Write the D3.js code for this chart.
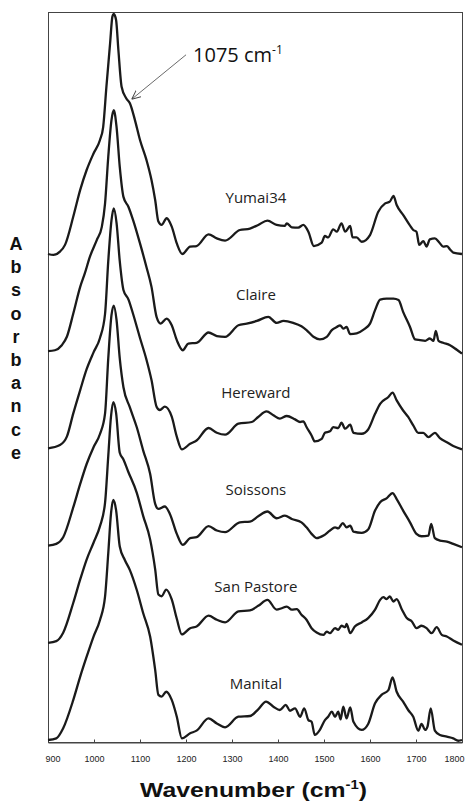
<!DOCTYPE html>
<html>
<head>
<meta charset="utf-8">
<script src="https://cdn.jsdelivr.net/npm/d3@7"></script>
<style>
  body { margin: 0; background: #fff; }
</style>
</head>
<body>
<div id="chart"></div>
<script>
// FTIR spectra, [wavenumber (cm-1), absorbance]
const yumai34 = [[900,0],[912,-0.004],[926,0.01],[937,0.038],[955,0.156],[970,0.267],[984,0.35],[999,0.419],[1013,0.475],[1020,0.53],[1027,0.697],[1035,0.878],[1040,0.989],[1043,1.0],[1048,0.975],[1053,0.85],[1060,0.697],[1070,0.649],[1078,0.628],[1089,0.558],[1100,0.475],[1114,0.392],[1125,0.308],[1133,0.225],[1140,0.135],[1147,0.121],[1158,0.149],[1169,0.114],[1180,0.044],[1192,0.0],[1209,0.031],[1223,0.033],[1249,0.082],[1267,0.065],[1285,0.056],[1317,0.1],[1339,0.106],[1357,0.121],[1377,0.139],[1397,0.121],[1415,0.117],[1419,0.128],[1430,0.111],[1444,0.11],[1455,0.121],[1466,0.093],[1478,0.033],[1495,0.047],[1502,0.075],[1509,0.069],[1520,0.103],[1528,0.093],[1538,0.128],[1546,0.093],[1557,0.117],[1562,0.069],[1571,0.069],[1582,0.051],[1600,0.079],[1618,0.176],[1633,0.211],[1643,0.218],[1651,0.242],[1658,0.204],[1672,0.163],[1686,0.121],[1694,0.1],[1701,0.093],[1707,0.038],[1716,0.054],[1723,0.031],[1730,0.061],[1741,0.065],[1751,0.047],[1759,0.031],[1767,0.033],[1774,0.019],[1781,0.006],[1800,0]];
const claire = [[900,0],[915,0.004],[930,0.025],[941,0.06],[955,0.157],[970,0.268],[980,0.324],[991,0.393],[1006,0.463],[1017,0.518],[1024,0.615],[1031,0.81],[1038,0.963],[1043,1.004],[1049,0.935],[1056,0.768],[1064,0.643],[1075,0.601],[1085,0.546],[1100,0.449],[1114,0.351],[1125,0.268],[1136,0.143],[1145,0.115],[1158,0.136],[1169,0.108],[1180,0.046],[1193,0.004],[1205,0.032],[1223,0.035],[1249,0.078],[1267,0.063],[1285,0.06],[1314,0.108],[1332,0.115],[1354,0.126],[1379,0.143],[1397,0.118],[1412,0.126],[1433,0.118],[1451,0.104],[1462,0.088],[1477,0.06],[1491,0.049],[1506,0.06],[1517,0.088],[1528,0.101],[1535,0.108],[1542,0.094],[1549,0.101],[1557,0.071],[1571,0.074],[1586,0.09],[1600,0.115],[1611,0.171],[1622,0.215],[1636,0.219],[1651,0.219],[1662,0.213],[1672,0.164],[1687,0.101],[1698,0.049],[1709,0.046],[1720,0.043],[1730,0.053],[1738,0.043],[1743,0.085],[1749,0.043],[1759,0.035],[1774,0.025],[1788,0.007],[1800,-0.01]];
const hereward = [[900,0],[926,0.014],[941,0.049],[955,0.146],[970,0.243],[984,0.33],[999,0.4],[1013,0.46],[1024,0.56],[1031,0.78],[1038,0.95],[1043,1.0],[1049,0.94],[1056,0.78],[1064,0.66],[1075,0.62],[1085,0.56],[1100,0.46],[1114,0.37],[1125,0.285],[1136,0.174],[1143,0.16],[1154,0.174],[1169,0.132],[1180,0.049],[1191,-0.004],[1209,0.019],[1223,0.033],[1249,0.085],[1267,0.065],[1285,0.057],[1314,0.103],[1343,0.11],[1357,0.131],[1375,0.154],[1390,0.138],[1404,0.124],[1419,0.135],[1437,0.121],[1448,0.11],[1455,0.113],[1462,0.089],[1473,0.054],[1480,0.029],[1495,0.04],[1502,0.065],[1513,0.071],[1520,0.089],[1531,0.085],[1538,0.107],[1546,0.082],[1557,0.099],[1564,0.065],[1582,0.061],[1596,0.079],[1611,0.144],[1622,0.186],[1640,0.214],[1649,0.232],[1658,0.2],[1672,0.158],[1683,0.131],[1694,0.096],[1705,0.065],[1716,0.065],[1727,0.047],[1741,0.065],[1752,0.043],[1767,0.026],[1781,0.01],[1800,-0.004]];
const soissons = [[900,0],[918,0.007],[933,0.035],[955,0.16],[970,0.257],[984,0.34],[999,0.41],[1013,0.465],[1024,0.55],[1031,0.78],[1038,0.96],[1043,1.0],[1049,0.94],[1056,0.78],[1064,0.66],[1078,0.576],[1093,0.493],[1107,0.396],[1122,0.299],[1133,0.174],[1140,0.153],[1154,0.163],[1165,0.132],[1180,0.049],[1193,0.003],[1209,0.031],[1223,0.035],[1249,0.081],[1267,0.063],[1285,0.056],[1317,0.097],[1339,0.1],[1357,0.122],[1377,0.142],[1397,0.114],[1415,0.125],[1430,0.111],[1451,0.097],[1462,0.076],[1473,0.049],[1484,0.031],[1499,0.042],[1513,0.063],[1524,0.076],[1531,0.072],[1541,0.094],[1549,0.076],[1557,0.083],[1564,0.058],[1582,0.053],[1596,0.067],[1611,0.146],[1622,0.181],[1636,0.197],[1649,0.219],[1658,0.194],[1672,0.146],[1687,0.097],[1701,0.049],[1712,0.039],[1727,0.042],[1733,0.09],[1741,0.031],[1752,0.021],[1767,0.017],[1781,0.007],[1800,-0.007]];
const sanPastore = [[900,0],[918,0.007],[933,0.042],[955,0.167],[970,0.264],[984,0.347],[999,0.417],[1013,0.486],[1024,0.583],[1031,0.778],[1037,0.944],[1042,1.003],[1048,0.958],[1056,0.792],[1064,0.764],[1074,0.715],[1093,0.625],[1107,0.528],[1122,0.431],[1133,0.306],[1140,0.201],[1147,0.194],[1157,0.222],[1169,0.181],[1180,0.1],[1191,0.035],[1209,0.061],[1223,0.068],[1249,0.113],[1267,0.096],[1285,0.085],[1314,0.131],[1339,0.135],[1357,0.154],[1377,0.179],[1397,0.138],[1408,0.144],[1419,0.151],[1430,0.138],[1441,0.14],[1451,0.117],[1462,0.096],[1473,0.061],[1484,0.043],[1499,0.033],[1506,0.047],[1513,0.04],[1524,0.061],[1531,0.054],[1538,0.071],[1546,0.065],[1549,0.079],[1557,0.04],[1567,0.068],[1582,0.085],[1596,0.103],[1611,0.138],[1622,0.179],[1629,0.19],[1636,0.182],[1643,0.193],[1651,0.172],[1658,0.182],[1669,0.14],[1680,0.103],[1691,0.089],[1701,0.061],[1712,0.071],[1723,0.061],[1734,0.04],[1745,0.065],[1756,0.033],[1767,0.026],[1781,0.01],[1800,-0.008]];
const manital = [[900,0],[918,0.007],[933,0.049],[955,0.167],[970,0.264],[984,0.347],[999,0.431],[1013,0.5],[1024,0.597],[1031,0.778],[1037,0.944],[1042,1.0],[1048,0.958],[1056,0.806],[1067,0.75],[1078,0.708],[1093,0.625],[1107,0.528],[1122,0.431],[1133,0.292],[1140,0.188],[1147,0.181],[1157,0.201],[1169,0.167],[1180,0.097],[1191,0.007],[1209,0.028],[1223,0.039],[1249,0.09],[1267,0.069],[1285,0.053],[1314,0.097],[1339,0.1],[1357,0.128],[1374,0.16],[1390,0.139],[1404,0.125],[1417,0.146],[1426,0.122],[1437,0.132],[1448,0.097],[1457,0.132],[1466,0.083],[1473,0.076],[1480,0.021],[1491,0.042],[1502,0.083],[1509,0.097],[1517,0.118],[1524,0.097],[1531,0.118],[1536,0.086],[1542,0.139],[1549,0.09],[1557,0.136],[1564,0.076],[1582,0.042],[1596,0.067],[1611,0.153],[1625,0.188],[1640,0.208],[1649,0.261],[1658,0.201],[1672,0.16],[1683,0.125],[1694,0.097],[1705,0.039],[1712,0.067],[1720,0.042],[1725,0.056],[1732,0.132],[1741,0.039],[1752,0.021],[1767,0.014],[1781,0.007],[1792,-0.003],[1800,0]];

const varieties = ["Yumai34", "Claire", "Hereward", "Soissons", "San Pastore", "Manital"];
const spectra = [yumai34, claire, hereward, soissons, sanPastore, manital];
// vertical stacking offset of each trace (absorbance units)
const stackOffsets = [2.025, 1.62, 1.215, 0.81, 0.405, 0];
const xTicks = [900, 1000, 1100, 1200, 1300, 1400, 1500, 1600, 1700, 1800];
const yLabel = "Absorbance";

// set the dimensions and margins of the graph
var margin = {top: 12, right: 10, bottom: 70, left: 48},
    width = 472 - margin.left - margin.right,
    height = 812 - margin.top - margin.bottom;

var svg = d3.select("#chart")
  .append("svg")
    .attr("width", 472)
    .attr("height", 812)
  .append("g")
    .attr("transform", "translate(" + margin.left + "," + margin.top + ")");

var x = d3.scaleLinear()
  .domain([900, 1800])
  .range([0, width]);

var y = d3.scaleLinear()
  .domain([-0.0083, 3.0333])
  .range([height, 0]);

// frame
svg.append("rect")
  .attr("x", 0.5)
  .attr("y", 0.5)
  .attr("width", width)
  .attr("height", height)
  .attr("fill", "none")
  .attr("stroke", "#444")
  .attr("stroke-width", 1);

// X axis, inward ticks
var xAxis = svg.append("g")
  .attr("transform", "translate(0," + (height + 0.5) + ")")
  .call(d3.axisBottom(x).tickValues(xTicks).tickSize(-3).tickPadding(13).tickFormat(d3.format("d")));
xAxis.select(".domain").attr("stroke", "#444");
xAxis.selectAll(".tick line").attr("stroke", "#444");
xAxis.selectAll("text")
  .style("font-family", "'Liberation Sans', Arial, sans-serif")
  .style("font-size", "9px")
  .attr("fill", "#222");
xAxis.selectAll(".tick").filter(function(d) { return d === 1800; }).select("text")
  .attr("text-anchor", "end").attr("x", 2);
xAxis.selectAll(".tick").filter(function(d) { return d === 900; }).select("text")
  .attr("text-anchor", "start").attr("x", -3);

// spectra
var line = d3.line()
  .x(function(d) { return x(d[0]); })
  .y(function(d) { return y(d[1] + d.offset); })
  .curve(d3.curveMonotoneX);

spectra.forEach(function(s, i) {
  var pts = s.map(function(p) { var q = [p[0], p[1]]; q.offset = stackOffsets[i]; return q; });
  svg.append("path")
    .datum(pts)
    .attr("fill", "none")
    .attr("stroke", "#1a1a1a")
    .attr("stroke-width", 2.3)
    .attr("stroke-linejoin", "round")
    .attr("d", line);
});

// variety labels
svg.selectAll(".variety")
  .data(varieties)
  .enter()
  .append("text")
    .attr("class", "variety")
    .attr("x", x(1352))
    .attr("y", function(d, i) { return y(stackOffsets[i] + 0.212); })
    .attr("text-anchor", "middle")
    .style("font-family", "'Open Sans', sans-serif")
    .style("font-size", "15px")
    .attr("fill", "#222")
    .text(function(d) { return d; });

// 1075 cm-1 annotation
svg.append("defs").append("marker")
    .attr("id", "arrow")
    .attr("viewBox", "0 0 10 10")
    .attr("refX", 10)
    .attr("refY", 5)
    .attr("markerWidth", 9)
    .attr("markerHeight", 9)
    .attr("markerUnits", "userSpaceOnUse")
    .attr("orient", "auto")
  .append("path")
    .attr("d", "M0,0.5 L10,5 L0,9.5")
    .attr("fill", "none")
    .attr("stroke", "#444")
    .attr("stroke-width", 1.1);

svg.append("line")
  .attr("x1", x(1187) + 6)
  .attr("y1", y(stackOffsets[0] + 0.83))
  .attr("x2", x(1082))
  .attr("y2", y(stackOffsets[0] + 0.645))
  .attr("stroke", "#444")
  .attr("stroke-width", 0.8)
  .attr("marker-end", "url(#arrow)");

var ann = svg.append("text")
  .attr("x", x(1187) + 13)
  .attr("y", y(stackOffsets[0] + 0.8))
  .style("font-family", "'Open Sans', sans-serif")
  .style("font-size", "20px")
  .attr("fill", "#111");
ann.append("tspan").text("1075 cm");
ann.append("tspan").attr("dy", -8).style("font-size", "12px").text("-1");

// axis titles
var title = svg.append("text")
  .attr("x", 253.5 - margin.left)
  .attr("y", height + 55)
  .attr("text-anchor", "middle")
  .attr("textLength", 227)
  .attr("lengthAdjust", "spacingAndGlyphs")
  .style("font-family", "'Liberation Sans', Arial, sans-serif")
  .style("font-weight", "bold")
  .style("font-size", "20px")
  .attr("fill", "#111");
title.append("tspan").text("Wavenumber (cm");
title.append("tspan").attr("dy", -8).style("font-size", "12px").text("-1");
title.append("tspan").attr("dy", 8).text(")");

svg.selectAll(".ylab")
  .data(yLabel.split(""))
  .enter()
  .append("text")
    .attr("class", "ylab")
    .attr("x", 16 - margin.left)
    .attr("y", function(d, i) { return 238 + i * 23.2; })
    .attr("text-anchor", "middle")
    .style("font-family", "'Liberation Sans', Arial, sans-serif")
    .style("font-weight", "bold")
    .style("font-size", "18px")
    .attr("fill", "#111")
    .text(function(d) { return d; });
</script>
</body>
</html>
